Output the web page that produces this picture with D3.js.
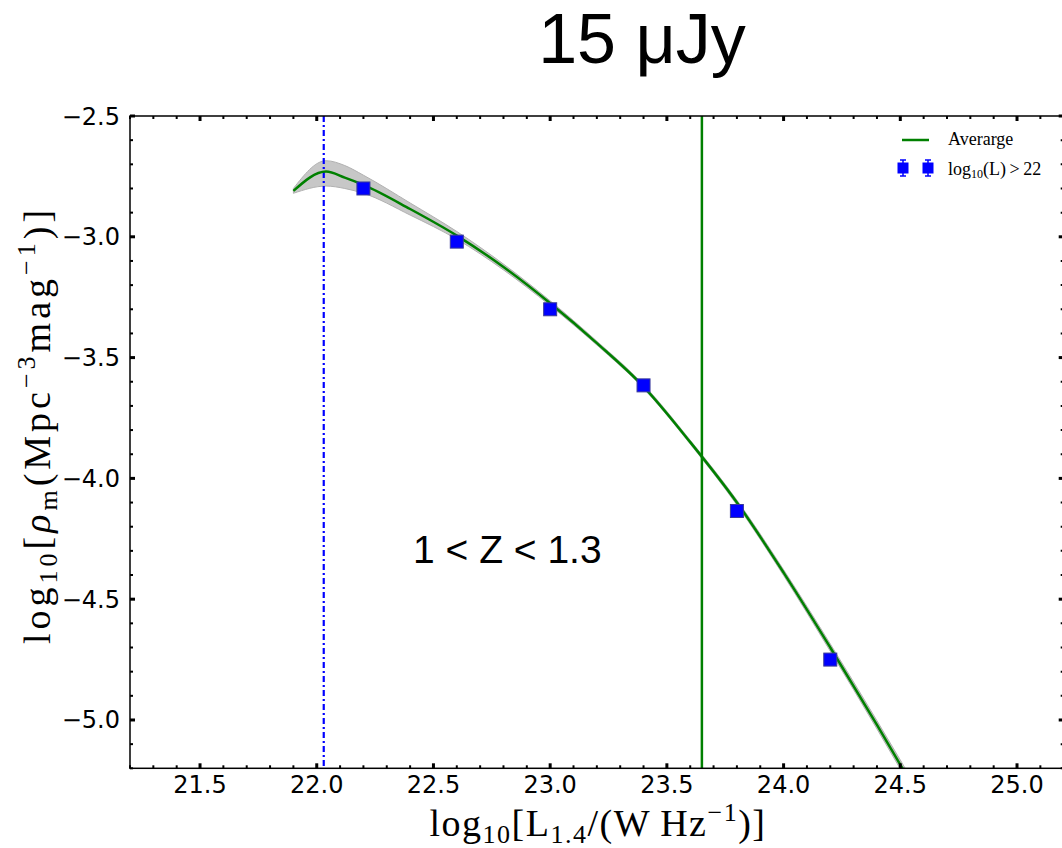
<!DOCTYPE html>
<html>
<head>
<meta charset="utf-8">
<script src="https://cdn.jsdelivr.net/npm/d3@7"></script>
<style>
  body { margin: 0; background: #fff; }
  svg { display: block; }
</style>
</head>
<body>
<svg id="chart"></svg>
<script>
const width = 1062;
const height = 848;

// measured points (log10 L > 22)
const pointL = [22.2, 22.6, 23.0, 23.4, 23.8, 24.2];
const pointRho = [-2.80, -3.02, -3.30, -3.615, -4.135, -4.75];
const pointErr = [0.012, 0.01, 0.01, 0.01, 0.012, 0.015];

// average curve and its grey band
const curveL = [21.9, 22.04, 22.12, 22.2, 22.4, 22.6, 22.8, 23.0, 23.2, 23.4, 23.6, 23.8, 24.0, 24.2, 24.4, 24.6];
const curveMid = [-2.81, -2.73, -2.755, -2.785, -2.885, -2.995, -3.125, -3.275, -3.44, -3.62, -3.85, -4.10, -4.39, -4.70, -5.02, -5.35];
const curveHi = [-2.80, -2.685, -2.705, -2.745, -2.86, -2.978, -3.113, -3.265, -3.432, -3.612, -3.842, -4.09, -4.378, -4.685, -5.003, -5.33];
const curveLo = [-2.82, -2.79, -2.80, -2.82, -2.91, -3.01, -3.137, -3.285, -3.448, -3.628, -3.858, -4.11, -4.402, -4.715, -5.037, -5.37];

const limitL = 22.03;   // dash-dot blue line
const cutL = 23.65;     // solid green line

const xMajor = [21.5, 22.0, 22.5, 23.0, 23.5, 24.0, 24.5, 25.0];
const yMajor = [-2.5, -3.0, -3.5, -4.0, -4.5, -5.0];

const svg = d3.select("#chart").attr("width", width).attr("height", height);

const x = d3.scaleLinear().domain([21.2, 25.2]).range([130, 1063.7]);
const y = d3.scaleLinear().domain([-5.2, -2.5]).range([768.3, 116]);

const [x0, x1] = x.range();
const [y0, y1] = [y(-2.5), y(-5.2)];

svg.append("defs").append("clipPath").attr("id", "plot-clip")
    .append("rect")
    .attr("x", x0).attr("y", y0)
    .attr("width", x1 - x0).attr("height", y1 - y0);

const g = svg.append("g").attr("clip-path", "url(#plot-clip)");

// grey band
const curveData = curveL.map((l, i) => ({ l, mid: curveMid[i], hi: curveHi[i], lo: curveLo[i] }));
g.append("path")
    .datum(curveData)
    .attr("fill", "#bdbdbd")
    .attr("fill-opacity", 0.85)
    .attr("stroke", "#b0b0b0")
    .attr("stroke-width", 1)
    .attr("d", d3.area().curve(d3.curveMonotoneX)
        .x((d) => x(d.l)).y0((d) => y(d.lo)).y1((d) => y(d.hi)));

// vertical lines
g.append("line")
    .attr("x1", x(limitL)).attr("x2", x(limitL))
    .attr("y1", y0).attr("y2", y1)
    .attr("stroke", "#0000ff")
    .attr("stroke-width", 2.2)
    .attr("stroke-dasharray", "6,3,2,3");

g.append("line")
    .attr("x1", x(cutL)).attr("x2", x(cutL))
    .attr("y1", y0).attr("y2", y1)
    .attr("stroke", "#008000")
    .attr("stroke-width", 2.5);

// average line
g.append("path")
    .datum(curveData)
    .attr("fill", "none")
    .attr("stroke", "#008000")
    .attr("stroke-width", 2.5)
    .attr("d", d3.line().curve(d3.curveMonotoneX).x((d) => x(d.l)).y((d) => y(d.mid)));

// points with error bars
const pts = pointL.map((l, i) => ({ l, rho: pointRho[i], err: pointErr[i] }));
const ms = 13;
g.selectAll(".ebar")
    .data(pts)
    .join("line")
    .attr("class", "ebar")
    .attr("x1", (d) => x(d.l)).attr("x2", (d) => x(d.l))
    .attr("y1", (d) => y(d.rho + d.err)).attr("y2", (d) => y(d.rho - d.err))
    .attr("stroke", "#0000ff").attr("stroke-width", 1.5);
g.selectAll(".pt")
    .data(pts)
    .join("rect")
    .attr("class", "pt")
    .attr("x", (d) => x(d.l) - ms / 2)
    .attr("y", (d) => y(d.rho) - ms / 2)
    .attr("width", ms).attr("height", ms)
    .attr("fill", "#0000ff")
    .attr("stroke", "#3a3a9a")
    .attr("stroke-width", 1);

// frame
svg.append("rect")
    .attr("x", x0).attr("y", y0)
    .attr("width", x1 - x0).attr("height", y1 - y0)
    .attr("fill", "none").attr("stroke", "#000").attr("stroke-width", 1.5);

// ticks, inward on all four sides
const xMinor = d3.range(21.2, 25.21, 0.1).map((v) => +v.toFixed(1)).filter((v) => !xMajor.includes(v));
const yMinor = d3.range(-5.2, -2.49, 0.1).map((v) => +v.toFixed(1)).filter((v) => !yMajor.includes(v));
const fmt = (v) => d3.format(".1f")(v).replace("-", "\u2212");

const tickStyle = (sel, w) => sel.attr("stroke", "#000").attr("stroke-width", w);

[[xMajor, 5, 3], [xMinor, 3, 2]].forEach(([vals, len, w]) => {
    svg.append("g").selectAll("line").data(vals).join("line")
        .attr("x1", (d) => x(d)).attr("x2", (d) => x(d))
        .attr("y1", y1).attr("y2", y1 - len).call(tickStyle, w);
    svg.append("g").selectAll("line").data(vals).join("line")
        .attr("x1", (d) => x(d)).attr("x2", (d) => x(d))
        .attr("y1", y0).attr("y2", y0 + len).call(tickStyle, w);
});
[[yMajor, 5, 3], [yMinor, 3, 2]].forEach(([vals, len, w]) => {
    svg.append("g").selectAll("line").data(vals).join("line")
        .attr("y1", (d) => y(d)).attr("y2", (d) => y(d))
        .attr("x1", x0).attr("x2", x0 + len).call(tickStyle, w);
    svg.append("g").selectAll("line").data(vals).join("line")
        .attr("y1", (d) => y(d)).attr("y2", (d) => y(d))
        .attr("x1", x1).attr("x2", x1 - len).call(tickStyle, w);
});

const tickFont = "'DejaVu Sans', sans-serif";
svg.append("g").selectAll("text").data(xMajor).join("text")
    .attr("x", (d) => x(d)).attr("y", y1 + 25)
    .attr("text-anchor", "middle")
    .attr("font-family", tickFont).attr("font-size", 24)
    .text(fmt);
svg.append("g").selectAll("text").data(yMajor).join("text")
    .attr("x", x0 - 10).attr("y", (d) => y(d) + 8.5)
    .attr("text-anchor", "end")
    .attr("font-family", tickFont).attr("font-size", 24)
    .text(fmt);

// axis labels
const serif = "'Liberation Serif', 'Times New Roman', serif";
const xl = svg.append("text")
    .attr("x", 598).attr("y", 836)
    .attr("text-anchor", "middle")
    .attr("font-family", serif).attr("font-size", 38)
    .attr("letter-spacing", 1.5);
xl.append("tspan").text("log");
xl.append("tspan").attr("font-size", 26).attr("dy", 7).text("10");
xl.append("tspan").attr("dy", -7).text("[L");
xl.append("tspan").attr("font-size", 26).attr("dy", 7).text("1.4");
xl.append("tspan").attr("dy", -7).text("/(W\u2009Hz");
xl.append("tspan").attr("font-size", 26).attr("dy", -15).text("\u22121");
xl.append("tspan").attr("dy", 15).text(")]");

const yl = svg.append("text")
    .attr("transform", "translate(50,425) rotate(-90)")
    .attr("text-anchor", "middle")
    .attr("font-family", serif).attr("font-size", 38)
    .attr("letter-spacing", 4);
yl.append("tspan").text("log");
yl.append("tspan").attr("font-size", 26).attr("dy", 7).text("10");
yl.append("tspan").attr("dy", -7).text("[");
yl.append("tspan").attr("font-style", "italic").text("\u03c1");
yl.append("tspan").attr("font-size", 26).attr("dy", 7).text("m");
yl.append("tspan").attr("dy", -7).text("(Mpc");
yl.append("tspan").attr("font-size", 26).attr("dy", -15).text("\u22123");
yl.append("tspan").attr("dy", 15).text("mag");
yl.append("tspan").attr("font-size", 26).attr("dy", -15).text("\u22121");
yl.append("tspan").attr("dy", 15).text(")]");

// title and annotation
svg.append("text")
    .attr("x", 642).attr("y", 63)
    .attr("text-anchor", "middle")
    .attr("font-family", "'Liberation Sans', Arial, sans-serif")
    .attr("font-size", 70)
    .text("15 \u03bcJy");

svg.append("text")
    .attr("x", 413).attr("y", 563)
    .attr("font-family", "'Liberation Sans', Arial, sans-serif")
    .attr("font-size", 39)
    .text("1 < Z < 1.3");

// legend
const lg = svg.append("g");
lg.append("line")
    .attr("x1", 902).attr("x2", 929).attr("y1", 140).attr("y2", 140)
    .attr("stroke", "#008000").attr("stroke-width", 2.5);
lg.append("text")
    .attr("x", 948).attr("y", 145)
    .attr("font-family", serif).attr("font-size", 18)
    .text("Averarge");
[903, 928].forEach((cx) => {
    lg.append("line")
        .attr("x1", cx).attr("x2", cx).attr("y1", 160).attr("y2", 176)
        .attr("stroke", "#0000ff").attr("stroke-width", 1.5);
    lg.append("line").attr("x1", cx - 3).attr("x2", cx + 3).attr("y1", 160).attr("y2", 160)
        .attr("stroke", "#0000ff").attr("stroke-width", 1.5);
    lg.append("line").attr("x1", cx - 3).attr("x2", cx + 3).attr("y1", 176).attr("y2", 176)
        .attr("stroke", "#0000ff").attr("stroke-width", 1.5);
    lg.append("rect")
        .attr("x", cx - 5.5).attr("y", 162.5).attr("width", 11).attr("height", 11)
        .attr("fill", "#0000ff");
});
const lt = lg.append("text")
    .attr("x", 948).attr("y", 175)
    .attr("font-family", serif).attr("font-size", 18);
lt.append("tspan").text("log");
lt.append("tspan").attr("font-size", 12).attr("dy", 3).text("10");
lt.append("tspan").attr("dy", -3).text("(L)\u2009>\u200922");
</script>
</body>
</html>
